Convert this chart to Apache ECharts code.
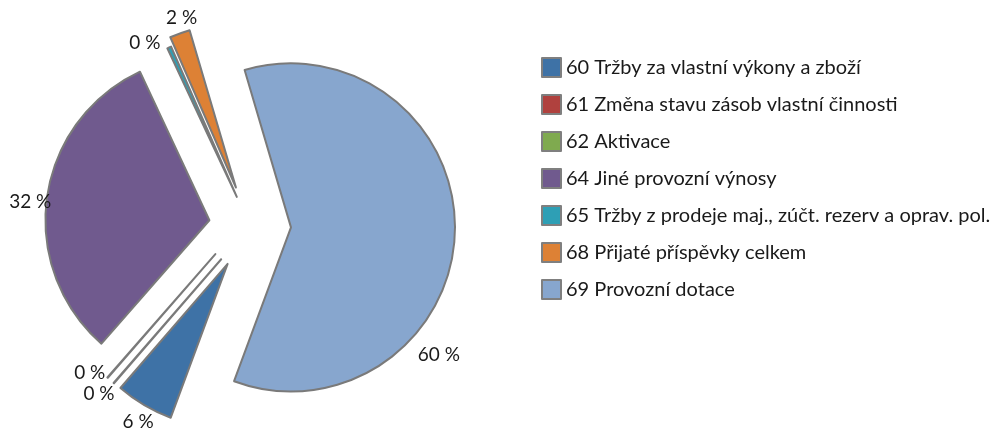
<!DOCTYPE html>
<html>
<head>
<meta charset="utf-8">
<script src="https://cdn.jsdelivr.net/npm/echarts@6/dist/echarts.min.js"></script>
<style>
html,body{margin:0;padding:0;background:#fff;}
#chart{width:992px;height:430px;}
</style>
</head>
<body>
<div id="chart"></div>
<script>
const categories = [
  '60 Tržby za vlastní výkony a zboží',
  '61 Změna stavu zásob vlastní činnosti',
  '62 Aktivace',
  '64 Jiné provozní výnosy',
  '65 Tržby z prodeje maj., zúčt. rezerv a oprav. pol.',
  '68 Přijaté příspěvky celkem',
  '69 Provozní dotace'
];
const shares = [5.7, 0.05, 0.05, 31.6, 0.4, 2.0, 60.2];
const colors = ['#3E72A6', '#B0413E', '#7FAA4F', '#705A8E', '#2E9FB5', '#DD8135', '#87A6CE'];

const FONT = 'Lato, "Open Sans", sans-serif';
const chart = echarts.init(document.getElementById('chart'), null, {renderer: 'canvas'});

// Explosion groups (Excel-style per-slice explosion): which slices, pie centre, explosion distance
const groups = [
  {items: [3, 5, 6], center: [250, 226], offset: 41},
  {items: [0, 1],    center: [250, 226], offset: 44},
  {items: [2],       center: [244.3, 220.9], offset: 44},
  {items: [4],       center: [250, 226], offset: 32}
];
// Label nudges (Excel "best fit" placement)
const labelNudge = {6: [-34, 121], 5: [8, 1], 4: [-17, 12], 3: [1, 7], 2: [-6, -18], 1: [-3, -3], 0: [3, 1]};

function makeSeries(g) {
  return {
    type: 'pie',
    center: g.center,
    radius: 164,
    startAngle: -110.3,
    clockwise: true,
    selectedMode: 'multiple',
    selectedOffset: g.offset,
    avoidLabelOverlap: false,
    emphasis: {disabled: true},
    itemStyle: {borderColor: '#7a7a7a', borderWidth: 2},
    label: {
      show: true,
      position: 'outside',
      fontFamily: FONT,
      fontSize: 19,
      color: '#1a1a1a',
      distanceToLabelLine: 0,
      formatter: p => Math.round(p.percent) + ' %'
    },
    labelLine: {show: false, length: 18, length2: 0},
    labelLayout: function (params) {
      const n = labelNudge[params.dataIndex] || [0, 0];
      return {align: 'center', verticalAlign: 'middle', dx: n[0], dy: n[1], hideOverlap: false};
    },
    data: categories.map((name, i) => {
      const shown = g.items.indexOf(i) >= 0;
      return shown ? {
        name: name, value: shares[i], selected: true,
        itemStyle: {color: colors[i]}
      } : {
        name: name, value: shares[i], selected: true,
        itemStyle: {color: 'rgba(0,0,0,0)', borderWidth: 0},
        label: {show: false}
      };
    })
  };
}

chart.setOption({
  animation: false,
  backgroundColor: '#ffffff',
  legend: {
    orient: 'vertical',
    left: 536,
    top: 52,
    itemWidth: 19,
    itemHeight: 19,
    itemGap: 16,
    icon: 'rect',
    textStyle: {fontFamily: FONT, fontSize: 20, lineHeight: 20, color: '#1a1a1a'},
    selectedMode: false,
    data: categories.map((name, i) => ({
      name: name,
      itemStyle: {color: colors[i], borderColor: '#7f7f7f', borderWidth: 2}
    }))
  },
  series: groups.map(makeSeries)
});
</script>
</body>
</html>
